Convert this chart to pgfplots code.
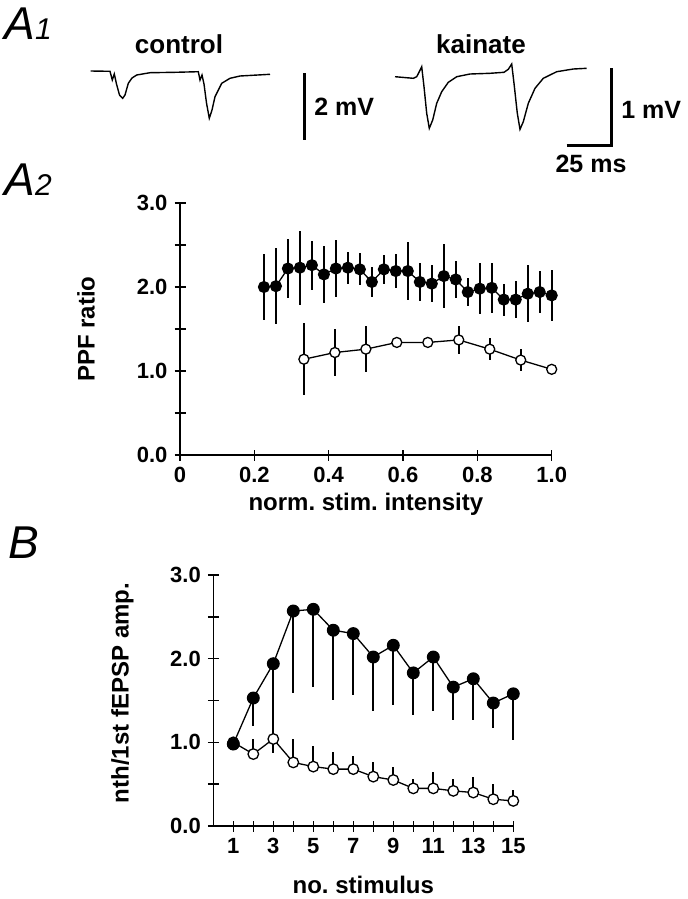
\documentclass[border=0pt]{standalone}
\usepackage{fontspec}
\setmainfont{Liberation Sans}
\usepackage{pgfplots}
\pgfplotsset{compat=1.18}
\frenchspacing

% 1 px of the reference = 0.5pt
\pgfplotsset{
  panel/.style={
    scale only axis, axis lines=left, axis line style={-, line width=0.7pt},
    tick align=center, major tick length=5.5pt, minor tick length=5.5pt,
    every tick/.style={black, line width=0.7pt},
    tick label style={font=\fontsize{11}{11}\selectfont\bfseries},
    label style={font=\fontsize{12}{12}\selectfont\bfseries},
    ymin=0, ymax=3, ytick={0,1,2,3}, minor ytick={0.5,1.5,2.5},
    yticklabels={0.0,1.0,2.0,3.0},
    clip=false,
  },
  filled/.style={black, line width=0.65pt, mark=*, mark options={fill=black, solid}},
  open/.style={black, line width=0.65pt, mark=*, mark options={fill=white, solid}},
  ebar/.style={error bars/y explicit, error bars/error mark=none,
    error bars/error bar style={line width=1pt}},
}

\begin{document}
\begin{tikzpicture}
\useasboundingbox (0,0) rectangle (344pt,-449.5pt);

% canvas in reference pixels: traces, scale bars, panel letters
\begin{axis}[at={(0,0)}, anchor=north west, scale only axis,
  width=344pt, height=449.5pt, xmin=0, xmax=688, ymin=0, ymax=899,
  y dir=reverse, hide axis, clip=false]
\addplot[black, line width=0.7pt] coordinates {
  (90.7,71) (110,71.3) (112.3,80) (114.3,74) (116.5,84) (119.5,95)
  (122.7,98.3) (125,95) (128.3,83.3) (132,78) (136.7,75) (150,72.7)
  (175,72.3) (198.3,71.7) (200,80) (202,75) (204,84) (206.5,103)
  (209.3,118.3) (212,110) (215,96.7) (221.7,83.3) (230,78.3)
  (240,76) (270,74.3)};
\addplot[black, line width=0.7pt] coordinates {
  (395,76.7) (413.3,78.3) (416.7,76.7) (419.3,71.7) (421.7,66.7)
  (424,86.7) (426.7,113.3) (429.3,128.3) (432.7,120) (436.7,103.3)
  (441.7,91.7) (448.3,82.3) (456.7,76.7) (470,74) (490,73.3) (504,72.3)
  (508.3,69.3) (511.7,64) (514,83.3) (517.3,113.3) (520,129.3)
  (523.3,121.7) (528.3,103.3) (535,88.3) (543.3,78.3) (556.7,71.7)
  (573.3,69) (586.7,68.3)};
\addplot[black, line width=1.5pt] coordinates {(304,73) (304,140)};
\addplot[black, line width=1.5pt] coordinates {(566.7,145) (611.7,145) (611.7,68)};

\node[anchor=base, inner sep=0] at (axis cs:179,53.3) {\fontsize{13}{13}\selectfont\bfseries control};
\node[anchor=base, inner sep=0] at (axis cs:481,53.3) {\fontsize{13}{13}\selectfont\bfseries kainate};
\node[anchor=base west, inner sep=0] at (axis cs:314,115) {\fontsize{12.5}{12.5}\selectfont\bfseries 2 mV};
\node[anchor=base west, inner sep=0] at (axis cs:621,118) {\fontsize{12.5}{12.5}\selectfont\bfseries 1 mV};
\node[anchor=base, inner sep=0] at (axis cs:591,172) {\fontsize{12.5}{12.5}\selectfont\bfseries 25 ms};

\node[anchor=base west, inner sep=0] at (axis cs:4,39) {\fontsize{23}{23}\selectfont\itshape A\fontsize{15}{15}\selectfont 1};
\node[anchor=base west, inner sep=0] at (axis cs:4,195) {\fontsize{23}{23}\selectfont\itshape A\fontsize{15}{15}\selectfont 2};
\node[anchor=base west, inner sep=0] at (axis cs:8,558) {\fontsize{23}{23}\selectfont\itshape B};
\end{axis}

% A2
\begin{axis}[panel, at={(90pt,-227.5pt)}, anchor=south west,
  width=185.85pt, height=126pt,
  xmin=0, xmax=1, xtick={0,0.2,0.4,0.6,0.8,1},
  xticklabels={0,0.2,0.4,0.6,0.8,1.0},
  xlabel={norm. stim. intensity}, ylabel={PPF ratio},
  xlabel style={at={(axis description cs:0.5,-0.222)}, anchor=base},
  ylabel style={at={(axis description cs:-0.253,0.5)}, anchor=center}]
\addplot[filled, mark size=2.7pt, ebar, error bars/y dir=both] coordinates {
  (0.2258,2.00) +- (0,0.39)
  (0.2581,2.01) +- (0,0.45)
  (0.2903,2.22) +- (0,0.35)
  (0.3226,2.23) +- (0,0.44)
  (0.3548,2.26) +- (0,0.29)
  (0.3871,2.15) +- (0,0.34)
  (0.4194,2.22) +- (0,0.34)
  (0.4516,2.23) +- (0,0.19)
  (0.4839,2.21) +- (0,0.19)
  (0.5161,2.06) +- (0,0.18)
  (0.5484,2.21) +- (0,0.17)
  (0.5806,2.19) +- (0,0.20)
  (0.6129,2.19) +- (0,0.34)
  (0.6452,2.06) +- (0,0.23)
  (0.6774,2.04) +- (0,0.22)
  (0.7097,2.13) +- (0,0.38)
  (0.7419,2.09) +- (0,0.22)
  (0.7742,1.94) +- (0,0.17)
  (0.8065,1.98) +- (0,0.30)
  (0.8387,1.99) +- (0,0.30)
  (0.8710,1.85) +- (0,0.19)
  (0.9032,1.85) +- (0,0.22)
  (0.9355,1.92) +- (0,0.34)
  (0.9677,1.94) +- (0,0.25)
  (1.0000,1.90) +- (0,0.30)};
\addplot[open, mark size=2.5pt, ebar, error bars/y dir=both] coordinates {
  (0.3333,1.14) +- (0,0.43)
  (0.4167,1.22) +- (0,0.28)
  (0.5000,1.26) +- (0,0.27)
  (0.5833,1.34) +- (0,0.03)
  (0.6667,1.34) +- (0,0.04)
  (0.7500,1.37) +- (0,0.17)
  (0.8333,1.26) +- (0,0.13)
  (0.9167,1.13) +- (0,0.13)
  (1.0000,1.02) +- (0,0.03)};
\end{axis}

% B
\begin{axis}[panel, at={(106.65pt,-413pt)}, anchor=south west,
  width=150pt, height=125.5pt,
  xmin=0, xmax=15, xtick={1,...,15},
  xticklabels={1,,3,,5,,7,,9,,11,,13,,15},
  xlabel={no. stimulus}, ylabel={nth/1st fEPSP amp.},
  xlabel style={at={(axis description cs:0.5,-0.267)}, anchor=base},
  ylabel style={at={(axis description cs:-0.303,0.53)}, anchor=center}]
\addplot[filled, mark size=2.9pt, ebar, error bars/y dir=minus] coordinates {
  (1,0.98) -= (0,0)
  (2,1.53) -= (0,0.34)
  (3,1.94) -= (0,1.07)
  (4,2.57) -= (0,0.98)
  (5,2.59) -= (0,0.93)
  (6,2.34) -= (0,0.83)
  (7,2.30) -= (0,0.73)
  (8,2.02) -= (0,0.65)
  (9,2.16) -= (0,0.71)
  (10,1.83) -= (0,0.50)
  (11,2.02) -= (0,0.65)
  (12,1.66) -= (0,0.39)
  (13,1.76) -= (0,0.49)
  (14,1.47) -= (0,0.30)
  (15,1.58) -= (0,0.55)};
\addplot[open, mark size=2.65pt, ebar, error bars/y dir=plus] coordinates {
  (1,1.00) += (0,0)
  (2,0.86) += (0,0.18)
  (3,1.04) += (0,0.15)
  (4,0.76) += (0,0.28)
  (5,0.71) += (0,0.25)
  (6,0.68) += (0,0.20)
  (7,0.68) += (0,0.16)
  (8,0.59) += (0,0.17)
  (9,0.55) += (0,0.15)
  (10,0.45) += (0,0.11)
  (11,0.45) += (0,0.19)
  (12,0.42) += (0,0.14)
  (13,0.40) += (0,0.18)
  (14,0.32) += (0,0.18)
  (15,0.30) += (0,0.13)};
\addplot[only marks, mark=*, mark size=2.9pt, fill=black] coordinates {(1,0.98)};
\end{axis}
\end{tikzpicture}
\end{document}
